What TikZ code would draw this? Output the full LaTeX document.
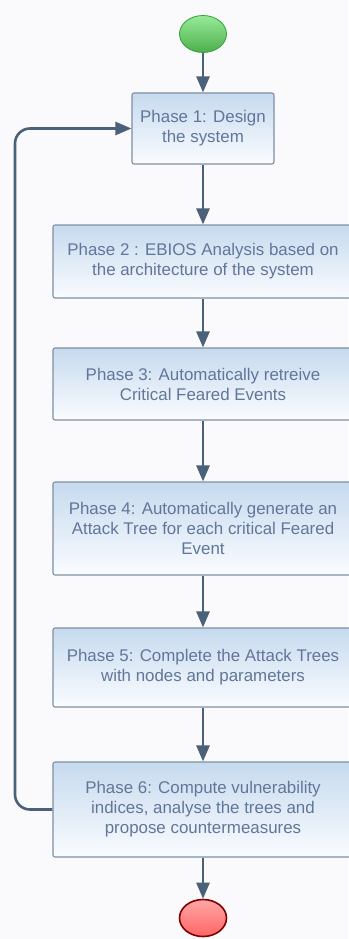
\documentclass[tikz,border=0pt]{standalone}
\usepackage{fontspec}
\setmainfont{Liberation Sans}
\usetikzlibrary{arrows.meta,shapes.geometric}
\definecolor{pagebg}{HTML}{FAFAFC}
\definecolor{flowline}{HTML}{4B6079}
\definecolor{phaseborder}{HTML}{7D8FA4}
\definecolor{phasetop}{HTML}{C6DAEE}
\definecolor{phasebottom}{HTML}{FAFCFF}
\definecolor{phasetext}{HTML}{62769A}

\begin{document}
\begin{tikzpicture}[x=1pt,y=1pt]
	\tikzset{
		phase/.style={draw=phaseborder, line width=1.1pt, rounded corners=2pt,
			top color=phasetop, bottom color=phasebottom, text=phasetext,
			align=center, inner sep=0pt, minimum width=300,
			font=\fontsize{16.9}{20}\selectfont},
		startnode/.style={ellipse, draw=green!55!black!80, line width=0.8pt,
			top color=green!35!white!92!black, bottom color=green!55!black!70,
			minimum width=47, minimum height=37, inner sep=0pt},
		endnode/.style={ellipse, draw=red!50!black, line width=1.6pt,
			top color=red!35!white, bottom color=red!60!white,
			minimum width=47, minimum height=37, inner sep=0pt},
		flow/.style={draw=flowline, line width=2.6pt,
			-{Triangle[length=16pt,width=13pt]}}
	}
	\fill [pagebg] (0,0) rectangle (348,-939);
	\useasboundingbox (0,0) rectangle (348,-939);
	% start and end
	\node [startnode] (start) at (203,-34) {};
	\node [endnode] (stop) at (203,-918) {};
	% phases
	\node [phase, minimum width=142, minimum height=71] (p1) at (203,-128.5) {Phase 1: Design\\the system};
	\node [phase, minimum height=73] (p2) at (203,-261.5) {Phase 2 : EBIOS Analysis based on\\the architecture of the system};
	\node [phase, minimum height=72] (p3) at (203,-384) {Phase 3: Automatically retreive\\Critical Feared Events};
	\node [phase, minimum height=93] (p4) at (203,-528.5) {Phase 4: Automatically generate an\\Attack Tree for each critical Feared\\Event};
	\node [phase, minimum height=79] (p5) at (203,-667.5) {Phase 5: Complete the Attack Trees\\with nodes and parameters};
	\node [phase, minimum height=95] (p6) at (203,-809.5) {Phase 6: Compute vulnerability\\indices, analyse the trees and\\propose countermeasures};
	% flow
	\draw [flow] (start) -- (p1);
	\draw [flow] (p1) -- (p2);
	\draw [flow] (p2) -- (p3);
	\draw [flow] (p3) -- (p4);
	\draw [flow] (p4) -- (p5);
	\draw [flow] (p5) -- (p6);
	\draw [flow] (p6) -- (stop);
	% back to phase 1
	\coordinate (back) at (15,-128.5);
	\draw [flow, rounded corners=15pt] (p6.west) -| (back) -- (p1.west);
\end{tikzpicture}
\end{document}
